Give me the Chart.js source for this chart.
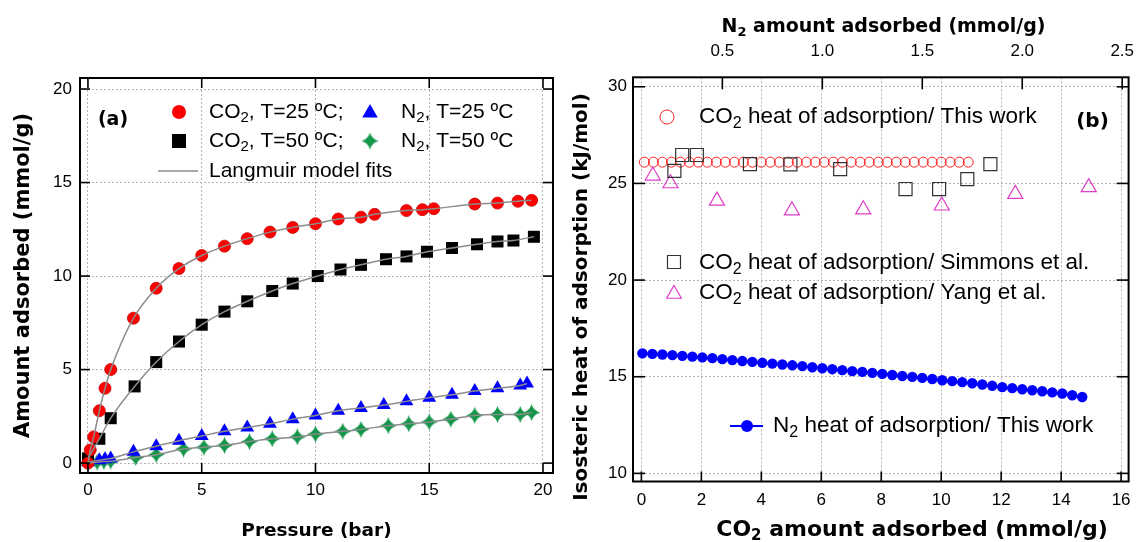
<!DOCTYPE html>
<html>
<head>
<meta charset="utf-8">
<script src="https://cdn.jsdelivr.net/npm/chart.js@4.4.1/dist/chart.umd.min.js"></script>
<style>
html, body { margin: 0; padding: 0; background: #fff; overflow: hidden; }
#wrap { position: relative; width: 1139px; height: 542px; }
canvas { position: absolute; top: 0; }
#ca { left: 0; }
#cb { left: 566px; }
</style>
</head>
<body>
<div id="wrap">
  <canvas id="ca" width="566" height="542"></canvas>
  <canvas id="cb" width="573" height="542"></canvas>
</div>
<script>
// ---- panel (a): isotherms, pressure (bar) vs amount adsorbed (mmol/g)
const co2_25_p = [0, 0.1, 0.25, 0.5, 0.75, 1.0, 2, 3, 4, 5, 6, 7, 8, 9, 10, 11, 12, 12.6, 14, 14.7, 15.2, 17, 18, 18.9, 19.5]
const co2_25_q = [0, 0.7, 1.4, 2.8, 4.0, 5.0, 7.75, 9.35, 10.4, 11.1, 11.6, 12.0, 12.35, 12.6, 12.8, 13.05, 13.15, 13.3, 13.5, 13.55, 13.6, 13.85, 13.9, 14.0, 14.05]

const co2_50_p = [0, 0.5, 1, 2.05, 3, 4, 5, 6, 7, 8.1, 9, 10.1, 11.1, 12, 13.1, 14, 14.9, 16, 17.1, 18, 18.7, 19.6]
const co2_50_q = [0.25, 1.3, 2.4, 4.1, 5.4, 6.5, 7.4, 8.1, 8.65, 9.2, 9.6, 10.0, 10.35, 10.6, 10.9, 11.05, 11.3, 11.5, 11.7, 11.85, 11.9, 12.1]

const n2_25_p = [0, 0.5, 0.75, 1.0, 2, 3, 4, 5, 6, 7, 8, 9, 10, 11, 12, 13, 14, 15, 16, 17, 18, 19, 19.3]
const n2_25_q = [0.05, 0.15, 0.2, 0.25, 0.6, 0.9, 1.2, 1.45, 1.7, 1.9, 2.1, 2.35, 2.55, 2.8, 2.95, 3.1, 3.3, 3.5, 3.65, 3.85, 4.0, 4.15, 4.25]

const n2_50_p = [0, 0.4, 0.7, 1.0, 2.1, 3, 4.2, 5.1, 6, 7.1, 8.1, 9.2, 10, 11.2, 12, 13.2, 14.1, 15, 15.95, 17, 18, 19, 19.5]
const n2_50_q = [0, 0.05, 0.08, 0.1, 0.3, 0.45, 0.75, 0.85, 0.95, 1.15, 1.3, 1.4, 1.55, 1.7, 1.8, 2.0, 2.1, 2.2, 2.35, 2.55, 2.6, 2.6, 2.7]

const pressTicks = [0, 5, 10, 15, 20]
const amountTicks = [0, 5, 10, 15, 20]

// ---- panel (b): isosteric heat (kJ/mol)
const co2_this_n = [0.1, 0.4, 0.7, 1.0, 1.3, 1.6, 1.9, 2.2, 2.5, 2.8, 3.1, 3.4, 3.7, 4.0, 4.3, 4.6, 4.9, 5.2, 5.5, 5.8, 6.1, 6.4, 6.7, 7.0, 7.3, 7.6, 7.9, 8.2, 8.5, 8.8, 9.1, 9.4, 9.7, 10.0, 10.3, 10.6, 10.9]
const co2_this_h = [26.1, 26.1, 26.1, 26.1, 26.1, 26.1, 26.1, 26.1, 26.1, 26.1, 26.1, 26.1, 26.1, 26.1, 26.1, 26.1, 26.1, 26.1, 26.1, 26.1, 26.1, 26.1, 26.1, 26.1, 26.1, 26.1, 26.1, 26.1, 26.1, 26.1, 26.1, 26.1, 26.1, 26.1, 26.1, 26.1, 26.1]

const simmons_n = [1.1, 1.36, 1.85, 3.62, 4.97, 6.63, 8.81, 9.93, 10.87, 11.64]
const simmons_h = [25.65, 26.47, 26.47, 26.0, 25.99, 25.74, 24.71, 24.71, 25.22, 26.0]

const yang_n = [0.38, 0.97, 2.52, 5.02, 7.4, 10.02, 12.47, 14.92]
const yang_h = [25.4, 25.0, 24.1, 23.6, 23.65, 23.85, 24.45, 24.8]

const n2_this_n = [0.10, 0.15, 0.20, 0.25, 0.30, 0.35, 0.40, 0.45, 0.50, 0.55, 0.60, 0.65, 0.70, 0.75, 0.80, 0.85, 0.90, 0.95, 1.00, 1.05, 1.10, 1.15, 1.20, 1.25, 1.30, 1.35, 1.40, 1.45, 1.50, 1.55, 1.60, 1.65, 1.70, 1.75, 1.80, 1.85, 1.90, 1.95, 2.00, 2.05, 2.10, 2.15, 2.20, 2.25, 2.30]
const n2_this_h = [16.21, 16.18, 16.15, 16.12, 16.08, 16.04, 16.00, 15.96, 15.91, 15.86, 15.81, 15.77, 15.72, 15.68, 15.63, 15.59, 15.55, 15.49, 15.44, 15.39, 15.34, 15.29, 15.25, 15.20, 15.15, 15.09, 15.04, 14.99, 14.94, 14.88, 14.82, 14.77, 14.72, 14.66, 14.60, 14.53, 14.46, 14.41, 14.35, 14.30, 14.25, 14.19, 14.13, 14.04, 13.95]

const co2Ticks = [0, 2, 4, 6, 8, 10, 12, 14, 16]
const n2Ticks = [0.5, 1.0, 1.5, 2.0, 2.5]
const heatTicks = [10, 15, 20, 25, 30]

const TXT = "'Liberation Sans', Arial, sans-serif"
const BOLD = "'DejaVu Sans', 'Liberation Sans', sans-serif"
const GRID = '#b4b4b4'
const TICKFONT = {family: TXT, size: 17}

var pts = (xs, ys) => xs.map((x, i) => ({x: x, y: ys[i]}))
var setTicks = vals => s => { s.ticks = vals.map(v => ({value: v})) }

function starImage(size, color) {
    const c = document.createElement('canvas')
    c.width = c.height = size
    const g = c.getContext('2d')
    const m = size / 2, q = size * 0.11
    g.fillStyle = color
    g.beginPath()
    g.moveTo(m, 0)
    g.quadraticCurveTo(m + q, m - q, size, m)
    g.quadraticCurveTo(m + q, m + q, m, size)
    g.quadraticCurveTo(m - q, m + q, 0, m)
    g.quadraticCurveTo(m - q, m - q, m, 0)
    g.fill()
    return c
}
const GREEN = '#13964a'
const star = starImage(17, GREEN)

// text with subscripts: parts = [[text, isSub], ...]
function richWidth(ctx, parts, size, weight, family) {
    let w = 0
    parts.forEach(([s, sub]) => {
        ctx.font = weight + ' ' + (sub ? Math.round(size * 0.7) : size) + 'px ' + family
        w += ctx.measureText(s).width
    })
    return w
}
function rich(ctx, parts, x, y, size, weight, family) {
    let cx = x
    ctx.textBaseline = 'middle'
    ctx.textAlign = 'left'
    parts.forEach(([s, sub]) => {
        const fs = sub ? Math.round(size * 0.7) : size
        ctx.font = weight + ' ' + fs + 'px ' + family
        ctx.fillText(s, cx, y + (sub ? size * 0.3 : 0))
        cx += ctx.measureText(s).width
    })
}

function marker(ctx, m) {
    ctx.save()
    if (m.shape == 'star') {
        ctx.drawImage(star, m.x - star.width / 2, m.y - star.height / 2)
        ctx.restore()
        return
    }
    ctx.beginPath()
    if (m.shape == 'line') {
        ctx.moveTo(m.x1, m.y); ctx.lineTo(m.x2, m.y)
    } else if (m.shape == 'circle') {
        ctx.arc(m.x, m.y, m.r, 0, Math.PI * 2)
    } else if (m.shape == 'rect') {
        ctx.rect(m.x - m.r, m.y - m.r, 2 * m.r, 2 * m.r)
    } else if (m.shape == 'triangle') {
        ctx.moveTo(m.x, m.y - m.r)
        ctx.lineTo(m.x + m.r * 0.866, m.y + m.r / 2)
        ctx.lineTo(m.x - m.r * 0.866, m.y + m.r / 2)
        ctx.closePath()
    }
    if (m.fill) { ctx.fillStyle = m.fill; ctx.fill() }
    if (m.stroke) { ctx.strokeStyle = m.stroke; ctx.lineWidth = m.lw || 1; ctx.stroke() }
    ctx.restore()
}

// frame + inward ticks + in-plot legend + subscripted axis titles
const decor = {
    id: 'decor',
    afterDraw(chart, args, opts) {
        const ctx = chart.ctx, a = chart.chartArea
        ctx.save()
        ctx.strokeStyle = '#000'
        ctx.lineWidth = 1.6
        ;(opts.marks || []).forEach(m => {
            const s = chart.scales[m.axis]
            s.ticks.forEach(t => {
                const p = s.getPixelForValue(t.value)
                m.sides.forEach(side => {
                    ctx.beginPath()
                    if (side == 'bottom') { ctx.moveTo(p, a.bottom); ctx.lineTo(p, a.bottom - m.len) }
                    if (side == 'top') { ctx.moveTo(p, a.top); ctx.lineTo(p, a.top + m.len) }
                    if (side == 'left') { ctx.moveTo(a.left, p); ctx.lineTo(a.left + m.len, p) }
                    if (side == 'right') { ctx.moveTo(a.right, p); ctx.lineTo(a.right - m.len, p) }
                    ctx.stroke()
                })
            })
        })
        ctx.lineWidth = 2
        ctx.strokeRect(a.left, a.top, a.right - a.left, a.bottom - a.top)
        ctx.fillStyle = '#000'
        ;(opts.items || []).forEach(it => {
            if (it.mark) marker(ctx, it.mark)
            if (it.marks) it.marks.forEach(mk => marker(ctx, mk))
            if (it.text) {
                ctx.fillStyle = '#000'
                rich(ctx, it.text, it.tx, it.ty, it.size, it.weight || 'normal', it.family || TXT)
            }
        })
        ;(opts.titles || []).forEach(t => {
            ctx.save()
            ctx.fillStyle = '#000'
            ctx.translate(t.x, t.y)
            if (t.rotate) ctx.rotate(-Math.PI / 2)
            const w = richWidth(ctx, t.text, t.size, 'bold', BOLD)
            rich(ctx, t.text, -w / 2, 0, t.size, 'bold', BOLD)
            ctx.restore()
        })
        if (opts.tag) {
            ctx.fillStyle = '#000'
            ctx.font = 'bold ' + opts.tag.size + 'px ' + BOLD
            ctx.textAlign = 'center'
            ctx.textBaseline = 'middle'
            ctx.fillText(opts.tag.text, opts.tag.x, opts.tag.y)
        }
        ctx.restore()
    }
}

var noPad = s => { s.paddingLeft = 0; s.paddingRight = 0; s.paddingTop = 0; s.paddingBottom = 0 }

function axis(o) {
    return Object.assign({
        type: 'linear',
        grid: {color: GRID, lineWidth: 1, drawTicks: false},
        border: {display: false, dash: [2, 2]},
        ticks: {color: '#000', font: TICKFONT, callback: v => String(v)}
    }, o)
}

var fitLine = (xs, ys) => ({
    data: pts(xs, ys), showLine: true, pointRadius: 0, borderColor: '#8c8c8c',
    borderWidth: 1.5, cubicInterpolationMode: 'monotone', fill: false
})

// ---------- chart (a)
new Chart(document.getElementById('ca'), {
    type: 'scatter',
    data: {
        datasets: [
            fitLine(co2_25_p, co2_25_q),
            fitLine(co2_50_p, co2_50_q),
            fitLine(n2_25_p, n2_25_q),
            fitLine(n2_50_p, n2_50_q),
            {data: pts(co2_25_p, co2_25_q), pointStyle: 'circle', pointRadius: 6, pointBackgroundColor: '#ff0000', pointBorderColor: '#cc0000', pointBorderWidth: 0.8},
            {data: pts(co2_50_p, co2_50_q), pointStyle: 'rect', pointRadius: 8.5, pointBackgroundColor: '#000', pointBorderColor: '#000', pointBorderWidth: 0},
            {data: pts(n2_25_p, n2_25_q), pointStyle: 'triangle', pointRadius: 8, pointBackgroundColor: '#0000ff', pointBorderColor: '#0000ff', pointBorderWidth: 0},
            {data: pts(n2_50_p, n2_50_q), pointStyle: star, pointRadius: 8}
        ]
    },
    options: {
        responsive: false,
        animation: false,
        layout: {padding: {top: 78, right: 13, left: 0, bottom: 0}},
        plugins: {
            legend: {display: false},
            tooltip: {enabled: false},
            decor: {
                marks: [
                    {axis: 'x', sides: ['bottom', 'top'], len: 10},
                    {axis: 'y', sides: ['left', 'right'], len: 10}
                ],
                tag: {text: '(a)', x: 113, y: 120, size: 19},
                items: [
                    {mark: {shape: 'circle', x: 179, y: 112, r: 7, fill: '#ff0000'}, text: [['CO', 0], ['2', 1], [', T=25 ºC;', 0]], tx: 209, ty: 112, size: 21},
                    {mark: {shape: 'rect', x: 179, y: 141, r: 7, fill: '#000'}, text: [['CO', 0], ['2', 1], [', T=50 ºC;', 0]], tx: 209, ty: 141, size: 21},
                    {mark: {shape: 'triangle', x: 370, y: 113, r: 9, fill: '#0000ff'}, text: [['N', 0], ['2', 1], [', T=25 ºC', 0]], tx: 401, ty: 112, size: 21},
                    {mark: {shape: 'star', x: 370, y: 141}, text: [['N', 0], ['2', 1], [', T=50 ºC', 0]], tx: 401, ty: 141, size: 21},
                    {mark: {shape: 'line', x1: 158, x2: 198, y: 171, stroke: '#8c8c8c', lw: 1.5}, text: [['Langmuir model fits', 0]], tx: 209, ty: 171, size: 21}
                ]
            }
        },
        scales: {
            x: axis({
                position: 'bottom', min: -0.35, max: 20.44,
                afterBuildTicks: setTicks(pressTicks),
                afterFit: s => { s.height = 69; noPad(s) },
                ticks: {color: '#000', font: TICKFONT, padding: 7, maxRotation: 0, callback: v => String(v)},
                title: {display: true, text: 'Pressure (bar)', color: '#000', font: {family: BOLD, size: 18.5, weight: 'bold', lineHeight: 1}, padding: {top: 0, bottom: 1.7}}
            }),
            y: axis({
                position: 'left', min: -0.53, max: 20.59,
                afterBuildTicks: setTicks(amountTicks),
                afterFit: s => { s.width = 80; noPad(s) },
                ticks: {color: '#000', font: TICKFONT, padding: 8, callback: v => String(v)},
                title: {display: true, text: 'Amount adsorbed (mmol/g)', color: '#000', font: {family: BOLD, size: 21, weight: 'bold', lineHeight: 1}, padding: {top: 13.5, bottom: 0}}
            })
        }
    },
    plugins: [decor]
})

// ---------- chart (b)
const OX = 566
new Chart(document.getElementById('cb'), {
    type: 'scatter',
    data: {
        datasets: [
            {data: pts(simmons_n, simmons_h), xAxisID: 'x', pointStyle: 'rect', pointRadius: 9.2, pointBackgroundColor: 'rgba(0,0,0,0)', pointBorderColor: '#333', pointBorderWidth: 1.2},
            {data: pts(yang_n, yang_h), xAxisID: 'x', pointStyle: 'triangle', pointRadius: 8.7, pointBackgroundColor: 'rgba(0,0,0,0)', pointBorderColor: '#e03cc8', pointBorderWidth: 1.2},
            {data: pts(co2_this_n, co2_this_h), xAxisID: 'x', pointStyle: 'circle', pointRadius: 5, pointBackgroundColor: 'rgba(0,0,0,0)', pointBorderColor: '#ff2020', pointBorderWidth: 1},
            {data: pts(n2_this_n, n2_this_h), xAxisID: 'x2', showLine: true, borderColor: '#0000ff', borderWidth: 2, pointStyle: 'circle', pointRadius: 5.2, pointBackgroundColor: '#0000ff', pointBorderColor: '#0000ff', pointBorderWidth: 0}
        ]
    },
    options: {
        responsive: false,
        animation: false,
        layout: {padding: {top: 0, right: 6.5, left: 0, bottom: 0}},
        plugins: {
            legend: {display: false},
            tooltip: {enabled: false},
            decor: {
                marks: [
                    {axis: 'x', sides: ['bottom'], len: 10},
                    {axis: 'x2', sides: ['top'], len: 12},
                    {axis: 'y', sides: ['left', 'right'], len: 12}
                ],
                tag: {text: '(b)', x: 1092.5 - OX, y: 122, size: 20},
                titles: [
                    {text: [['N', 0], ['2', 1], [' amount adsorbed (mmol/g)', 0]], x: 883.5 - OX, y: 27, size: 19},
                    {text: [['CO', 0], ['2', 1], [' amount adsorbed (mmol/g)', 0]], x: 912 - OX, y: 530, size: 22},
                    {text: [['Isosteric heat of adsorption (kJ/mol)', 0]], x: 582 - OX, y: 297, size: 20, rotate: true}
                ],
                items: [
                    {mark: {shape: 'circle', x: 667 - OX, y: 117, r: 7, stroke: '#ff2020', lw: 1}, text: [['CO', 0], ['2', 1], [' heat of adsorption/ This work', 0]], tx: 699 - OX, ty: 117, size: 22.5},
                    {mark: {shape: 'rect', x: 674 - OX, y: 262, r: 6.5, stroke: '#333', lw: 1.2}, text: [['CO', 0], ['2', 1], [' heat of adsorption/ Simmons et al.', 0]], tx: 699 - OX, ty: 263, size: 22.5},
                    {mark: {shape: 'triangle', x: 674 - OX, y: 294, r: 8.5, stroke: '#e03cc8', lw: 1.2}, text: [['CO', 0], ['2', 1], [' heat of adsorption/ Yang et al.', 0]], tx: 699 - OX, ty: 293, size: 22.5},
                    {marks: [{shape: 'line', x1: 730 - OX, x2: 763 - OX, y: 426, stroke: '#0000ff', lw: 2}, {shape: 'circle', x: 747 - OX, y: 426, r: 6, fill: '#0000ff'}], text: [['N', 0], ['2', 1], [' heat of adsorption/ This work', 0]], tx: 773 - OX, ty: 426, size: 22.5}
                ]
            }
        },
        scales: {
            x: axis({
                position: 'bottom', min: -0.28, max: 16.25,
                afterBuildTicks: setTicks(co2Ticks),
                afterFit: s => { s.height = 60.5; noPad(s) },
                ticks: {color: '#000', font: TICKFONT, padding: 9, maxRotation: 0, callback: v => String(v)}
            }),
            x2: axis({
                position: 'top', min: 0.053, max: 2.532,
                afterBuildTicks: setTicks(n2Ticks),
                afterFit: s => { s.height = 77.3; noPad(s) },
                grid: {display: false, drawTicks: false},
                ticks: {color: '#000', font: TICKFONT, padding: 16, maxRotation: 0, callback: v => v.toFixed(1)}
            }),
            y: axis({
                position: 'left', min: 9.58, max: 30.49,
                afterBuildTicks: setTicks(heatTicks),
                afterFit: s => { s.width = 67; noPad(s) },
                ticks: {color: '#000', font: TICKFONT, padding: 6, callback: v => String(v)}
            })
        }
    },
    plugins: [decor]
})
</script>
</body>
</html>
